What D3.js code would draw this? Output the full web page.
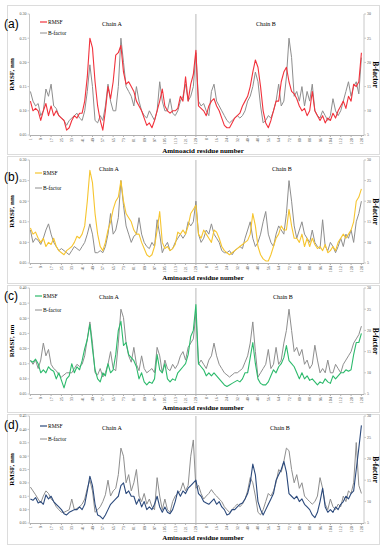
<!DOCTYPE html>
<html>
<head>
<meta charset="utf-8">
<script src="https://cdn.jsdelivr.net/npm/d3@7/dist/d3.min.js"></script>
<style>
body { margin: 0; background: #fff; }
svg { display: block; }
</style>
</head>
<body>
<svg id="sketch"></svg>
<script>
// sampled every 2nd residue, chain A = 1..129, chain B = 130..258 (global numbering)
var residue = d3.range(1, 258, 2);
var chainATicks = [1, 9, 17, 25, 33, 41, 49, 57, 65, 73, 81, 89, 97, 105, 113, 121, 129];
var chainBTicks = [8, 16, 24, 32, 40, 48, 56, 64, 72, 80, 88, 96, 104, 112, 120, 128];
var chainLength = 129;
var bfacTicks = [5, 10, 15, 20, 25, 30];
var panelNames = ['(a)', '(b)', '(c)', '(d)'];
var rmsfTicksAB = [0.05, 0.10, 0.15, 0.20, 0.25, 0.30];
var rmsfTicksC = [0.05, 0.10, 0.15, 0.20, 0.25, 0.30, 0.35, 0.40];
var rmsfTicksD = [0.05, 0.10, 0.15, 0.20, 0.25, 0.30, 0.35, 0.40, 0.45];

var rmsfA = [0.12,0.10,0.105,0.10, 0.08,0.10,0.115,0.09, 0.11,0.09,0.10,0.09, 0.085,0.08,0.06,0.065,
  0.08,0.09,0.085,0.095, 0.095,0.12,0.17,0.25, 0.23,0.16,0.11,0.08, 0.06,0.10,0.15,0.125,
  0.16,0.215,0.22,0.235, 0.18,0.155,0.16,0.15, 0.14,0.12,0.11,0.10, 0.085,0.07,0.075,0.065,
  0.08,0.10,0.12,0.145, 0.11,0.10,0.095,0.10, 0.10,0.105,0.13,0.12, 0.17,0.12,0.155,0.175, 0.225,
  0.11,0.105,0.10,0.09, 0.11,0.12,0.125,0.11, 0.10,0.085,0.07,0.065, 0.065,0.075,0.085,0.09,
  0.095,0.11,0.12,0.13, 0.15,0.18,0.205,0.19, 0.15,0.10,0.075,0.065, 0.08,0.10,0.12,0.12,
  0.16,0.18,0.19,0.16, 0.14,0.135,0.125,0.11, 0.10,0.105,0.09,0.10, 0.14,0.10,0.09,0.08,
  0.09,0.075,0.085,0.08, 0.095,0.085,0.10,0.11, 0.12,0.105,0.13,0.12, 0.155,0.15,0.16,0.22];
var bfacA = [14,12,11,11.5, 9,10,14.5,13, 15.5,11,10.5,9, 8.5,8,7,8,
  8.5,9,9.5,8.5, 8,10,14,19.5, 15,8,7.5,9, 8,11,15.5,12,
  10,10,15,25, 20,15,14,13, 11,15,12,10, 9,8.5,10,9,
  8,10,16,12, 10,10,12.5,9.5, 9,10,12,13, 15.5,12,13,15, 22,
  12,11,11.5,10, 9,14,15.5,12, 11,10,9,8, 7.5,8,8.5,9,
  8.5,9,10,12, 13,15,18,16, 11,7.5,8,9, 8.5,10,12,15.5,
  11,12,17,25, 21,13,14,12, 15,11,14,12, 15.5,10,9,8.5,
  10,9,8,9, 12.5,10,9,10, 12,14,16,13, 15,16,13.5,21];

var rmsfB = [0.135,0.12,0.125,0.11, 0.10,0.11,0.09,0.10, 0.095,0.11,0.09,0.08, 0.075,0.07,0.08,0.085,
  0.09,0.10,0.115,0.11, 0.12,0.14,0.20,0.275, 0.245,0.17,0.12,0.09, 0.08,0.10,0.13,0.15,
  0.18,0.20,0.21,0.25, 0.20,0.17,0.16,0.15, 0.13,0.12,0.12,0.10, 0.085,0.07,0.065,0.07,
  0.09,0.13,0.175,0.10, 0.085,0.09,0.08,0.085, 0.095,0.125,0.12,0.13, 0.12,0.14,0.17,0.18, 0.19,
  0.12,0.11,0.13,0.12, 0.11,0.10,0.13,0.125, 0.11,0.09,0.08,0.075, 0.07,0.075,0.08,0.085,
  0.09,0.095,0.10,0.105, 0.12,0.17,0.14,0.09, 0.07,0.06,0.055,0.055, 0.07,0.09,0.11,0.12,
  0.14,0.13,0.13,0.18, 0.14,0.11,0.11,0.10, 0.12,0.09,0.11,0.09, 0.11,0.095,0.085,0.09,
  0.08,0.095,0.075,0.08, 0.09,0.08,0.10,0.11, 0.12,0.11,0.12,0.13, 0.15,0.20,0.21,0.23];
var bfacB = [13,10,11,10.5, 9.5,11,13,14.5, 12,10,9,8, 8.5,8,7.5,7,
  8,9,8.5,8, 9,10,12,14.5, 12,7.5,7.5,8, 7.5,9,12,17,
  12,13,16,25, 19,14,12,10, 11.5,12,16,12, 10,9,8.5,10,
  9,15.5,12,7.5, 9,10,8,8.5, 10,11,12,11, 12,15,14,15, 20,
  12,10,11,13, 12,14.5,12,11, 10,8,7.5,7.5, 8,7,8,8.5,
  9,8.5,11,13, 15,11,9,10, 12,15,17.5,12, 10,9,12,14,
  13,12,17,25, 20,14,11,13, 15,12,11,10, 13,10,9,8.5,
  15.5,9,8,10, 9,7.5,9,11, 9,12,11,13, 10,15,17,20];

var rmsfC = [0.16,0.155,0.165,0.15, 0.12,0.13,0.12,0.14, 0.13,0.125,0.10,0.12, 0.095,0.07,0.10,0.11,
  0.15,0.12,0.14,0.13, 0.16,0.20,0.23,0.28, 0.20,0.13,0.10,0.09, 0.12,0.11,0.15,0.12,
  0.13,0.18,0.26,0.29, 0.21,0.22,0.18,0.17, 0.16,0.14,0.10,0.12, 0.09,0.08,0.09,0.085,
  0.10,0.18,0.13,0.12, 0.15,0.10,0.09,0.10, 0.095,0.12,0.13,0.14, 0.15,0.18,0.24,0.26, 0.345,
  0.15,0.14,0.13,0.11, 0.12,0.11,0.12,0.11, 0.10,0.09,0.08,0.075, 0.08,0.085,0.09,0.095,
  0.09,0.10,0.12,0.12, 0.17,0.22,0.15,0.10, 0.085,0.08,0.08,0.09, 0.11,0.13,0.12,0.14,
  0.15,0.17,0.21,0.16, 0.15,0.14,0.12,0.10, 0.12,0.10,0.11,0.095, 0.10,0.09,0.08,0.09,
  0.085,0.10,0.09,0.085, 0.11,0.10,0.11,0.12, 0.12,0.13,0.125,0.13, 0.18,0.22,0.22,0.25];
var bfacC = [13,12,13,11, 13,17,14,15.5, 12,11,10.5,9.5, 9,9.5,10,10,
  10,11,12,11.5, 12,14,18,22, 17,10,9.5,11, 9,10,12,15,
  11,10.5,17,25, 23,17,14,12.5, 16,12,10.5,14, 11,10,10.5,11,
  10,16,14,10, 13,11,10.5,12, 11,12,14,15, 13,16,17,18, 24,
  12,13,12,11, 13,14,17,14, 12,11,10,9.5, 9,9.5,10,10,
  10.5,11,12.5,14, 17,22,15,9, 10,11,12,15.5, 11,12,16,12,
  13,17,20,25, 20,15,16,14, 15.5,12,13,11, 12,16.5,13,10,
  11,10,13,10, 10,12,11,10, 12,13,14,15, 17,18,19,21];

var rmsfD = [0.14,0.135,0.145,0.125, 0.13,0.12,0.155,0.14, 0.15,0.13,0.12,0.11, 0.10,0.085,0.08,0.09,
  0.095,0.10,0.10,0.11, 0.10,0.12,0.17,0.225, 0.19,0.12,0.08,0.075, 0.065,0.08,0.10,0.12,
  0.13,0.14,0.15,0.19, 0.20,0.16,0.17,0.15, 0.15,0.12,0.14,0.11, 0.13,0.10,0.11,0.10,
  0.12,0.15,0.11,0.09, 0.11,0.09,0.085,0.10, 0.13,0.17,0.15,0.17, 0.16,0.18,0.19,0.20, 0.21,
  0.16,0.15,0.13,0.125, 0.12,0.13,0.14,0.12, 0.13,0.11,0.10,0.08, 0.085,0.10,0.10,0.11,
  0.12,0.125,0.14,0.16, 0.20,0.27,0.23,0.13, 0.10,0.08,0.10,0.12, 0.14,0.16,0.21,0.23,
  0.25,0.28,0.24,0.16, 0.15,0.14,0.15,0.13, 0.14,0.12,0.11,0.10, 0.08,0.07,0.09,0.13,
  0.18,0.11,0.09,0.10, 0.09,0.11,0.10,0.12, 0.13,0.15,0.14,0.16, 0.17,0.25,0.33,0.415];
var bfacD = [13.4,12.5,11.6,10.6, 9.7,11.3,12.5,11.9, 10.6,10,8.8,8.1, 7.5,7.5,7.8,8.1,
  10.6,8.1,8.4,8.8, 9.4,10.6,13.1,15, 12.5,7.5,8.1,8.8, 10,11.6,15,11.3,
  12.5,13.1,16.3,22.5, 20.6,14.4,16.3,12.5, 14.4,17.5,11.3,10, 11.9,9.4,10.6,8.8,
  8.1,15.6,11.3,8.1, 10.6,8.1,7.5,10, 11.3,11.9,12.5,14.4, 12.5,13.8,20.6,24.4, 13.1,
  13.8,11.9,10.6,11.3, 11.9,12.8,11.9,11.3, 10.6,10,8.8,8.1, 7.5,8.1,8.8,9.4,
  8.8,9.4,10.6,12.5, 15.6,14.4,11.3,7.5, 6.9,8.1,10,11.9, 11.3,12.5,14.4,17.5,
  16.9,19.4,22.5,21.9, 17.5,14.4,16.3,13.1, 14.4,11.3,10.6,10, 9.4,10,11.3,15.6,
  13.1,9.4,8.1,10.6, 8.8,8.1,9.4,8.8, 11.3,10,12.5,11.9, 14.4,23.8,13.8,11.9];

var rmsfColors = ['#f2323c', '#f6c530', '#2dba6c', '#2c4a7c'];
var bfacColor = '#8e8e8e';

// layout of the four stacked panels (page pixels)
var panels = [
  {rmsf: rmsfA, bfac: bfacA, ticks: rmsfTicksAB, box: [5, 154], top: 14, bottom: 135, legX: 40, legY: [22, 33], chainY: 26, chainAX: 102, chainBX: 256, labelY: 28, titleY: 153},
  {rmsf: rmsfB, bfac: bfacB, ticks: rmsfTicksAB, box: [156, 283], top: 160, bottom: 263, legX: 35, legY: [173, 188], chainY: 171, chainAX: 99, chainBX: 272, labelY: 181, titleY: 280},
  {rmsf: rmsfC, bfac: bfacC, ticks: rmsfTicksC, box: [285, 412], top: 288, bottom: 394, legX: 35, legY: [296, 310], chainY: 299, chainAX: 99, chainBX: 273, labelY: 300, titleY: 410},
  {rmsf: rmsfD, bfac: bfacD, ticks: rmsfTicksD, box: [414, 544], top: 416, bottom: 523, legX: 40, legY: [426, 439], chainY: 430, chainAX: 102, chainBX: 270, labelY: 429, titleY: 540}
];

var svg = d3.select('#sketch').attr('width', 386).attr('height', 550);
var serif = "'Liberation Serif', 'DejaVu Serif', serif";

var x = d3.scaleLinear().domain([0.3, 259]).range([29.5, 364]);

panels.forEach(function(p, i) {
  var g = svg.append('g');
  var yL = d3.scaleLinear().domain(d3.extent(p.ticks)).range([p.bottom, p.top]);
  var yR = d3.scaleLinear().domain([5, 30]).range([p.bottom, p.top]);

  g.append('rect')
    .attr('x', 7.5).attr('y', p.box[0] + 0.5)
    .attr('width', 372).attr('height', p.box[1] - p.box[0])
    .attr('fill', 'none').attr('stroke', '#dcdcdc').attr('stroke-width', 1);

  // axes lines
  g.append('line').attr('x1', 29.5).attr('x2', 29.5).attr('y1', p.top).attr('y2', p.bottom).attr('stroke', '#c8c8c8');
  g.append('line').attr('x1', 364).attr('x2', 364).attr('y1', p.top).attr('y2', p.bottom).attr('stroke', '#c8c8c8');
  g.append('line').attr('x1', 29.5).attr('x2', 364).attr('y1', p.bottom + 0.5).attr('y2', p.bottom + 0.5).attr('stroke', '#b0b0b0');
  g.append('line').attr('x1', x(chainLength)).attr('x2', x(chainLength)).attr('y1', p.top).attr('y2', p.bottom).attr('stroke', '#b8b8b8');

  // left ticks
  p.ticks.forEach(function(t) {
    g.append('line').attr('x1', 27.5).attr('x2', 29.5).attr('y1', yL(t)).attr('y2', yL(t)).attr('stroke', '#c8c8c8');
    g.append('text').attr('x', 26.5).attr('y', yL(t) + 1.4)
      .attr('text-anchor', 'end').style('font-family', serif).style('font-size', '4px').attr('fill', '#555')
      .text(t.toFixed(2));
  });
  // right ticks
  bfacTicks.forEach(function(t) {
    g.append('line').attr('x1', 364).attr('x2', 366).attr('y1', yR(t)).attr('y2', yR(t)).attr('stroke', '#c8c8c8');
    g.append('text').attr('x', 367).attr('y', yR(t) + 1.4)
      .style('font-family', serif).style('font-size', '4px').attr('fill', '#555')
      .text(t);
  });

  // residue ticks
  var xt = chainATicks.map(function(r) { return {pos: r, lab: r}; })
    .concat(chainBTicks.map(function(r) { return {pos: r + chainLength, lab: r}; }));
  xt.forEach(function(t) {
    g.append('line').attr('x1', x(t.pos)).attr('x2', x(t.pos)).attr('y1', p.bottom).attr('y2', p.bottom + 2).attr('stroke', '#b0b0b0');
    g.append('text')
      .attr('transform', 'translate(' + (x(t.pos) + 1.5) + ',' + (p.bottom + 3) + ') rotate(-90)')
      .attr('text-anchor', 'end').style('font-family', serif).style('font-size', '4.3px').attr('fill', '#555')
      .text(t.lab);
  });

  // series
  var lineB = d3.line().x(function(d, k) { return x(residue[k]); }).y(function(d) { return yR(d); });
  var lineR = d3.line().x(function(d, k) { return x(residue[k]); }).y(function(d) { return yL(d); });
  g.append('path').datum(p.bfac).attr('d', lineB)
    .attr('fill', 'none').attr('stroke', bfacColor).attr('stroke-width', 1).attr('stroke-linejoin', 'round');
  g.append('path').datum(p.rmsf).attr('d', lineR)
    .attr('fill', 'none').attr('stroke', rmsfColors[i]).attr('stroke-width', 1.1).attr('stroke-linejoin', 'round');

  // titles
  g.append('text').attr('x', 203).attr('y', p.titleY).attr('text-anchor', 'middle')
    .style('font-family', serif).style('font-size', '7px').style('font-weight', 'bold')
    .text('Aminoacid residue number');
  g.append('text').attr('transform', 'translate(13.5,' + ((p.top + p.bottom) / 2) + ') rotate(-90)')
    .attr('text-anchor', 'middle').style('font-family', serif).style('font-size', '7px').style('font-weight', 'bold')
    .text('RMSF, nm');
  g.append('text').attr('transform', 'translate(373,' + ((p.top + p.bottom) / 2) + ') rotate(90)')
    .attr('text-anchor', 'middle').style('font-family', serif).style('font-size', '7.5px').style('font-weight', 'bold')
    .text('B-factor');

  // legend
  g.append('line').attr('x1', p.legX).attr('x2', p.legX + 7).attr('y1', p.legY[0]).attr('y2', p.legY[0])
    .attr('stroke', rmsfColors[i]).attr('stroke-width', 1.2);
  g.append('text').attr('x', p.legX + 8).attr('y', p.legY[0] + 1.8)
    .style('font-family', serif).style('font-size', '5.5px').text('RMSF');
  g.append('line').attr('x1', p.legX).attr('x2', p.legX + 7).attr('y1', p.legY[1]).attr('y2', p.legY[1])
    .attr('stroke', bfacColor).attr('stroke-width', 1);
  g.append('text').attr('x', p.legX + 8).attr('y', p.legY[1] + 1.8)
    .style('font-family', serif).style('font-size', '5.5px').text('B-factor');

  g.append('text').attr('x', p.chainAX).attr('y', p.chainY)
    .style('font-family', serif).style('font-size', '6px').text('Chain A');
  g.append('text').attr('x', p.chainBX).attr('y', p.chainY)
    .style('font-family', serif).style('font-size', '6px').text('Chain B');

  g.append('text').attr('x', 4).attr('y', p.labelY)
    .style('font-family', "'Liberation Sans', Arial, sans-serif").style('font-size', '12px')
    .text(panelNames[i]);
});
</script>
</body>
</html>
